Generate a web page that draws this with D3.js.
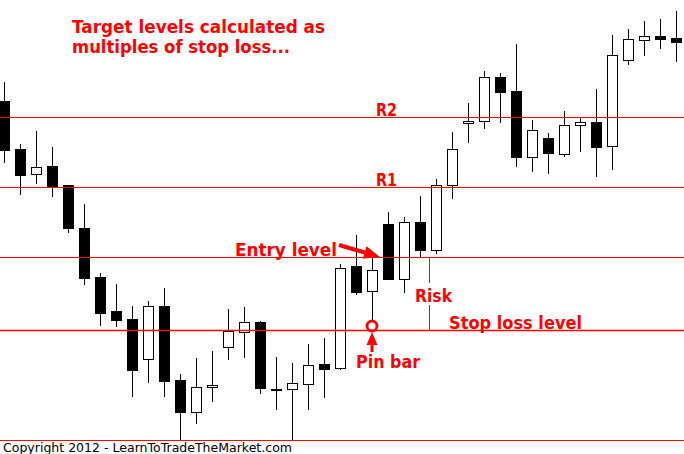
<!DOCTYPE html>
<html>
<head>
<meta charset="utf-8">
<script src="https://cdn.jsdelivr.net/npm/d3@7"></script>
<style>
  html, body { margin: 0; padding: 0; background: #fff; }
  svg { display: block; }
</style>
</head>
<body>
<svg id="chart" width="684" height="454"></svg>
<script>
// Daily OHLC prices, one entry per bar
const opens  = [1.3399,1.3351,1.3326,1.3334,1.3315,1.3272,1.3223,1.3189,1.3181,1.3141,1.3194,1.3120,1.3088,1.3113,1.3153,1.3168,1.3178,1.3111,1.3111,1.3116,1.3136,1.3132,1.3234,1.3209,1.3276,1.3221,1.3278,1.3250,1.3315,1.3377,1.3379,1.3423,1.3409,1.3343,1.3362,1.3346,1.3375,1.3378,1.3354,1.3440,1.3460,1.3464,1.3462];
const highs  = [1.3418,1.3356,1.3369,1.3353,1.3315,1.3296,1.3227,1.3216,1.3194,1.3199,1.3212,1.3126,1.3142,1.3149,1.3191,1.3193,1.3179,1.3143,1.3137,1.3156,1.3162,1.3236,1.3265,1.3243,1.3288,1.3283,1.3304,1.3321,1.3368,1.3397,1.3429,1.3427,1.3456,1.3380,1.3367,1.3389,1.3383,1.3411,1.3465,1.3471,1.3479,1.3481,1.3489];
const lows   = [1.3338,1.3306,1.3317,1.3304,1.3268,1.3216,1.3175,1.3174,1.3104,1.3118,1.3104,1.3060,1.3077,1.3099,1.3141,1.3143,1.3107,1.3091,1.3060,1.3091,1.3103,1.3131,1.3206,1.3174,1.3221,1.3208,1.3243,1.3247,1.3302,1.3358,1.3372,1.3378,1.3334,1.3329,1.3327,1.3344,1.3349,1.3324,1.3331,1.3436,1.3445,1.3452,1.3439];
const closes = [1.3350,1.3325,1.3333,1.3314,1.3272,1.3222,1.3187,1.3180,1.3130,1.3194,1.3119,1.3088,1.3113,1.3115,1.3169,1.3178,1.3112,1.3110,1.3117,1.3135,1.3131,1.3232,1.3208,1.3230,1.3221,1.3278,1.3250,1.3315,1.3351,1.3379,1.3423,1.3408,1.3343,1.3370,1.3347,1.3375,1.3378,1.3353,1.3445,1.3461,1.3464,1.3461,1.3458];

// Trade levels: stop below the pin bar, entry at its high, targets as multiples of risk
const stopLevel  = 1.3170;
const entryLevel = 1.3243;
const r1Level    = 1.3313;
const r2Level    = 1.3383;
const floorLevel = 1.3060;
const pinBarIndex = 23;

const titleLines = ["Target levels calculated as", "multiples of stop loss..."];
const copyright  = "Copyright 2012 - LearnToTradeTheMarket.com";

const W = 684, H = 454;
const RED = "#ff0000";
const svg = d3.select("#chart");

const x = d3.scaleLinear().domain([0, opens.length - 1]).range([4, 676]);
const y = d3.scaleLinear().domain([1.35, 1.306]).range([0, 440]);
const px = v => Math.round(x(v)) + 0.5;
const py = v => Math.round(y(v)) + 0.5;

const bars = opens.map((o, i) => ({ i, o, h: highs[i], l: lows[i], c: closes[i] }));

// Candles
const g = svg.append("g").attr("class", "candles");
g.selectAll("line.wick").data(bars).join("line")
  .attr("class", "wick")
  .attr("x1", d => px(d.i)).attr("x2", d => px(d.i))
  .attr("y1", d => Math.round(y(d.h))).attr("y2", d => Math.round(y(d.l)) + 1)
  .attr("stroke", "#000").attr("stroke-width", 1);
g.selectAll("rect.body").data(bars).join("rect")
  .attr("class", "body")
  .attr("x", d => px(d.i) - 5)
  .attr("width", 10)
  .attr("y", d => py(Math.max(d.o, d.c)))
  .attr("height", d => Math.max(1, Math.round(y(Math.min(d.o, d.c))) - Math.round(y(Math.max(d.o, d.c)))))
  .attr("fill", d => d.c >= d.o ? "#fff" : "#000")
  .attr("stroke", "#000").attr("stroke-width", 1);

// Horizontal levels
const levels = [r2Level, r1Level, entryLevel, stopLevel, floorLevel];
svg.append("g").selectAll("line").data(levels).join("line")
  .attr("x1", 0).attr("x2", W)
  .attr("y1", d => py(d)).attr("y2", d => py(d))
  .attr("stroke", RED)
  .attr("stroke-width", d => d === stopLevel ? 1.3 : 1);

// Text helper
function label(txt, x0, base, width, size, color, weight) {
  svg.append("text")
    .attr("x", x0).attr("y", base)
    .attr("font-family", "DejaVu Sans, Verdana, sans-serif")
    .attr("font-size", size)
    .attr("font-weight", weight || "bold")
    .attr("fill", color || RED)
    .attr("textLength", width)
    .attr("lengthAdjust", "spacingAndGlyphs")
    .text(txt);
}

label(titleLines[0], 72, 33, 253, 18.5);
label(titleLines[1], 72, 53, 218, 18.5);
label("R2", 376, Math.round(y(r2Level)) - 1, 21, 17.5);
label("R1", 376, Math.round(y(r1Level)) - 1, 21, 17.5);
label("Entry level", 235, 256, 102, 18);
label("Risk", 415, 302, 37, 18);
label("Stop loss level", 449, 329, 133, 18);
label("Pin bar", 356, 368, 64, 18);
label(copyright, 3, 452, 289, 12.5, "#000", "normal");

// Risk marker between entry and stop
const riskX = 429.5;
svg.append("line").attr("x1", riskX).attr("x2", riskX)
  .attr("y1", y(entryLevel)).attr("y2", 283)
  .attr("stroke", RED).attr("stroke-width", 1);
svg.append("line").attr("x1", riskX).attr("x2", riskX)
  .attr("y1", 305).attr("y2", y(stopLevel) + 1)
  .attr("stroke", RED).attr("stroke-width", 1);

// Arrow pointing at the entry level
const ax0 = 339, ay0 = 245, ax1 = x(pinBarIndex) + 8, ay1 = y(entryLevel);
const ang = Math.atan2(ay1 - ay0, ax1 - ax0);
const headLen = 16, headW = 6.5;
const bx = ax1 - headLen * Math.cos(ang), by = ay1 - headLen * Math.sin(ang);
svg.append("line").attr("x1", ax0).attr("y1", ay0).attr("x2", bx).attr("y2", by)
  .attr("stroke", RED).attr("stroke-width", 4);
svg.append("path")
  .attr("d", `M${ax1},${ay1} L${bx + headW * Math.sin(ang)},${by - headW * Math.cos(ang)} L${bx - headW * Math.sin(ang)},${by + headW * Math.cos(ang)} Z`)
  .attr("fill", RED);

// Circle on the pin bar low and the arrow from its label
const cx = px(pinBarIndex) - 0.5, cy = y(lows[pinBarIndex]);
svg.append("circle").attr("cx", cx).attr("cy", cy).attr("r", 5)
  .attr("fill", "#fff").attr("stroke", RED).attr("stroke-width", 2.8);
svg.append("path")
  .attr("d", `M${cx},${cy + 6} L${cx + 5.5},${cy + 19} L${cx - 5.5},${cy + 19} Z`)
  .attr("fill", RED);
svg.append("rect").attr("x", cx - 1.5).attr("y", cy + 18).attr("width", 3).attr("height", 8)
  .attr("fill", RED);
</script>
</body>
</html>
